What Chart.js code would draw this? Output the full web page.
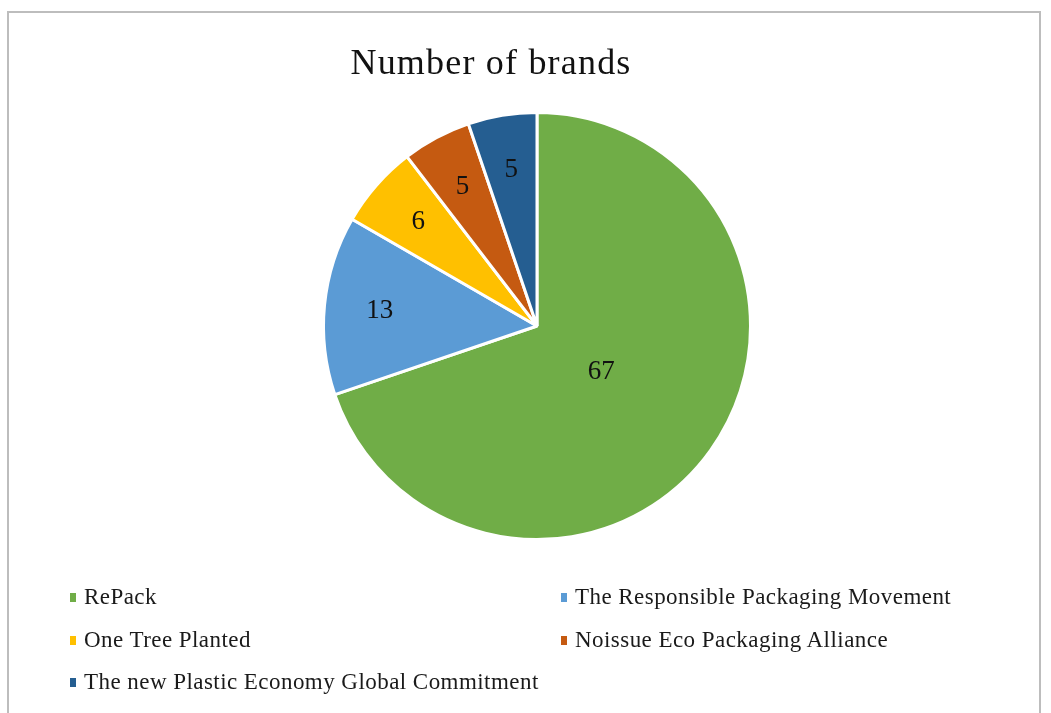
<!DOCTYPE html>
<html>
<head>
<meta charset="utf-8">
<script src="https://cdn.jsdelivr.net/npm/chart.js@4/dist/chart.umd.min.js"></script>
<style>
  body { margin: 0; background: #fff; }
  #wrap { position: relative; width: 1051px; height: 713px; overflow: hidden; }
  #frame { position: absolute; left: 7px; top: 11px; width: 1034px; height: 720px; border: 2px solid #bdbdbd; box-sizing: border-box; }
  #chart { position: absolute; left: 0; top: 0; }
  #legend { position: absolute; left: 70px; top: 584px; width: 960px; font-family: "Liberation Serif", serif; font-size: 23px; letter-spacing: 0.45px; color: #1a1a1a; }
  .item { position: absolute; white-space: nowrap; }
  .box { display: inline-block; width: 6px; height: 9px; margin-right: 8px; vertical-align: 2px; }
</style>
</head>
<body>
<div id="wrap">
  <div id="frame"></div>
  <canvas id="chart" width="1051" height="713"></canvas>
  <div id="legend"></div>
</div>
<script>
// data
const chartTitle = 'Number of brands';
const categories = [
  'RePack',
  'The Responsible Packaging Movement',
  'One Tree Planted',
  'Noissue Eco Packaging Alliance',
  'The new Plastic Economy Global Commitment'
];
const brandCounts = [67, 13, 6, 5, 5];
const sliceColors = ['#70AD47', '#5B9BD5', '#FFC000', '#C55A11', '#255E91'];

// value labels inside slices (big slice closer to centre, like Excel best fit)
const sliceLabels = {
  id: 'sliceLabels',
  afterDatasetsDraw(chart) {
    const ctx = chart.ctx;
    const meta = chart.getDatasetMeta(0);
    ctx.save();
    ctx.fillStyle = '#111';
    ctx.font = '27px "Liberation Serif", serif';
    ctx.textAlign = 'center';
    ctx.textBaseline = 'middle';
    meta.data.forEach((arc, i) => {
      const p = arc.getProps(['x', 'y', 'startAngle', 'endAngle', 'outerRadius']);
      const mid = (p.startAngle + p.endAngle) / 2;
      const f = brandCounts[i] > 30 ? 0.37 : 0.74;
      const r = p.outerRadius * f;
      ctx.fillText(String(brandCounts[i]), p.x + Math.cos(mid) * r, p.y + Math.sin(mid) * r);
    });
    ctx.restore();
  }
};

// title drawn over the canvas, offset left of the pie as in the original
const titlePlugin = {
  id: 'titleText',
  afterDraw(chart) {
    const ctx = chart.ctx;
    ctx.save();
    ctx.fillStyle = '#111';
    ctx.font = '36px "Liberation Serif", serif';
    ctx.letterSpacing = '1.2px';
    ctx.textAlign = 'center';
    ctx.textBaseline = 'middle';
    ctx.fillText(chartTitle, 491, 65);
    ctx.restore();
  }
};

new Chart(document.getElementById('chart'), {
  type: 'pie',
  data: {
    labels: categories,
    datasets: [{
      data: brandCounts,
      backgroundColor: sliceColors,
      borderColor: '#ffffff',
      borderWidth: 3
    }]
  },
  options: {
    responsive: false,
    animation: false,
    devicePixelRatio: 1,
    layout: { padding: { top: 111, bottom: 172, left: 322, right: 299 } },
    plugins: {
      legend: { display: false },
      tooltip: { enabled: false },
      title: { display: false }
    }
  },
  plugins: [sliceLabels, titlePlugin]
});

// legend in two columns like the original
const legend = document.getElementById('legend');
categories.forEach((name, i) => {
  const el = document.createElement('div');
  el.className = 'item';
  el.style.left = (i % 2 ? 491 : 0) + 'px';
  el.style.top = (Math.floor(i / 2) * 42.5) + 'px';
  el.innerHTML = '<span class="box" style="background:' + sliceColors[i] + '"></span>' + name;
  legend.appendChild(el);
});
</script>
</body>
</html>
